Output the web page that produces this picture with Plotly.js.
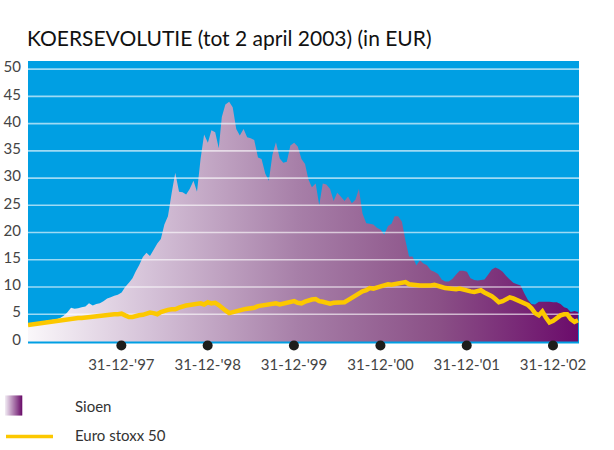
<!DOCTYPE html>
<html>
<head>
<meta charset="utf-8">
<script src="https://cdn.plot.ly/plotly-3.0.1.min.js"></script>
<style>html,body{margin:0;padding:0;background:#fff;}#chart{width:614px;height:450px;}</style>
</head>
<body>
<div id="chart"></div>
<script>
// Semi-monthly observations (1st and 16th of each month), starting December 1996
const startYear = 1996, startMonth = 12;
const sioen = [
 3.3,3.4,3.5,3.5,3.6,3.8,3.9,4.0,4.1,4.3,4.7,5.3,6.2,6.0,6.1,6.3,6.4,7.0,6.6,6.9,
 7.0,7.4,7.9,8.1,8.4,8.6,9.0,10.0,10.8,11.6,12.8,14.0,15.5,16.3,15.7,16.8,18.0,18.8,21.5,23.0,
 27.3,31.0,27.5,27.4,27.0,28.0,29.5,27.5,33.5,38.0,36.5,38.8,38.4,35.5,41.2,43.5,44.0,43.0,39.0,37.8,
 39.0,37.5,37.3,37.0,33.8,33.5,30.8,29.5,34.3,36.6,33.6,32.8,33.0,36.0,36.5,35.8,33.5,32.6,29.8,28.3,
 29.0,25.0,29.0,28.8,28.0,25.8,27.3,26.6,25.8,26.6,25.4,26.0,28.0,23.5,21.7,21.6,21.5,20.9,20.5,19.6,
 21.2,21.6,23.0,23.0,22.0,18.5,15.6,15.6,14.0,14.9,14.3,14.0,13.1,12.8,12.4,11.4,11.0,11.0,11.5,12.3,
 13.0,13.0,12.8,11.6,11.3,11.2,11.3,11.4,12.3,13.2,13.6,13.3,12.8,12.0,11.4,10.8,10.5,10.3,8.8,7.6,
 6.9,6.8,7.3,7.3,7.3,7.3,7.2,7.2,6.9,6.3,6.1,5.4,5.6,5.4
];
const eurostoxx = [
 3.0,3.1,3.2,3.3,3.4,3.5,3.6,3.75,3.85,3.9,4.0,4.1,4.15,4.2,4.3,4.3,4.4,4.5,4.5,4.6,
 4.7,4.7,4.8,4.9,5.0,5.0,5.1,4.8,4.5,4.5,4.7,4.8,4.9,5.2,5.3,5.2,5.0,5.4,5.7,5.8,
 5.9,5.9,6.2,6.5,6.6,6.7,6.8,6.9,7.0,6.8,7.2,7.0,7.1,6.7,6.1,5.7,5.2,5.4,5.7,5.7,
 5.9,6.0,6.0,6.2,6.5,6.6,6.7,6.9,6.9,7.0,6.8,6.9,7.1,7.2,7.4,7.1,7.0,7.3,7.6,7.7,
 7.8,7.4,7.3,7.1,6.95,7.1,7.2,7.1,7.2,7.6,8.0,8.5,8.9,9.2,9.4,9.8,9.7,10.0,10.1,10.3,
 10.5,10.4,10.5,10.6,10.8,10.9,10.5,10.4,10.2,10.3,10.3,10.2,10.3,10.4,10.3,10.0,9.8,9.7,9.7,9.6,
 9.7,9.5,9.4,9.2,9.1,9.2,9.4,9.0,8.7,8.3,7.8,7.2,7.4,7.8,8.1,7.9,7.6,7.5,7.2,6.7,
 6.1,5.2,4.8,5.5,4.4,3.5,3.8,4.4,4.8,5.0,5.0,4.1,3.6,3.9
];
const yTicks = [0,5,10,15,20,25,30,35,40,45,50];
const markerDates = ['1997-12-31','1998-12-31','1999-12-31','2000-12-31','2001-12-31','2002-12-31'];
const markerLabels = ["31-12-'97","31-12-'98","31-12-'99","31-12-'00","31-12-'01","31-12-'02"];
const legendNames = ['Sioen','Euro stoxx 50'];
const titleText = 'KOERSEVOLUTIE (tot 2 april 2003) (in EUR)';

function pad(n){return (n<10?'0':'')+n;}
const dates = sioen.map((_, k) => {
  const mIdx = (startMonth - 1) + Math.floor(k / 2);
  const y = startYear + Math.floor(mIdx / 12);
  const m = (mIdx % 12) + 1;
  return y + '-' + pad(m) + '-' + (k % 2 ? '16' : '01');
});
const xRange = ['1996-12-01', '2003-04-20'];
const yMin = -1.75, yMax = 51.5, bgBottom = -0.35;

const purpleScale = [[0,'#faf7fa'],[0.22,'#d5c2d8'],[0.49,'#a77fa8'],[0.75,'#8a4f86'],[1,'#6b0b6b']];

// gridlines drawn above the area but below the index line
const gx = [], gy = [];
yTicks.filter(v => v > 0).forEach(v => { gx.push(xRange[0], xRange[1], null); gy.push(v, v, null); });

const traces = [
  {x: dates, y: sioen, type: 'scatter', mode: 'none', fill: 'tozeroy',
   fillgradient: {type: 'horizontal', colorscale: purpleScale},
   name: legendNames[0], showlegend: false, hoverinfo: 'skip'},
  {x: gx, y: gy, type: 'scatter', mode: 'lines', line: {color: 'rgba(255,255,255,0.62)', width: 1.6},
   showlegend: false, hoverinfo: 'skip'},
  {x: dates, y: eurostoxx, type: 'scatter', mode: 'lines', line: {color: '#fcc800', width: 4.5},
   name: legendNames[1], showlegend: false},
  {x: markerDates, y: markerDates.map(() => -0.75), type: 'scatter', mode: 'markers',
   marker: {color: '#1d1d1b', size: 10}, showlegend: false, hoverinfo: 'skip'}
];

const W = 614, H = 450, L = 28, R = 579, T = 61, B = 350.6;
const px = v => (v - L) / (R - L);
const py = v => (B - v) / (B - T);

const shapes = [
  // blue plotting background (stops just under zero)
  {type: 'rect', xref: 'paper', yref: 'y', x0: 0, x1: 1, y0: bgBottom, y1: yMax, fillcolor: '#009fe3', line: {width: 0}, layer: 'below'}
];
// gradient legend swatch
const sw0 = 5, sw1 = 22, steps = 17;
function lerp(a, b, t){return Math.round(a + (b - a) * t);}
for (let i = 0; i < steps; i++) {
  const t = i / (steps - 1);
  const c = 'rgb(' + lerp(238,110,t) + ',' + lerp(230,20,t) + ',' + lerp(240,110,t) + ')';
  shapes.push({type: 'rect', xref: 'paper', yref: 'paper',
    x0: px(sw0 + i * (sw1 - sw0) / steps), x1: px(sw0 + (i + 1) * (sw1 - sw0) / steps + 0.3),
    y0: py(415), y1: py(395), fillcolor: c, line: {width: 0}});
}
shapes.push({type: 'line', xref: 'paper', yref: 'paper', x0: px(6), x1: px(53), y0: py(436), y1: py(436),
  line: {color: '#fcc800', width: 3.5}});

const annotations = [
  {text: legendNames[0], xref: 'paper', yref: 'paper', x: px(73), y: py(406), xanchor: 'left', yanchor: 'middle',
   showarrow: false, font: {family: 'Lato, sans-serif', size: 15, color: '#333'}},
  {text: legendNames[1], xref: 'paper', yref: 'paper', x: px(73), y: py(434), xanchor: 'left', yanchor: 'middle',
   showarrow: false, font: {family: 'Lato, sans-serif', size: 15, color: '#333'}}
];

const layout = {
  width: W, height: H,
  margin: {l: L, r: W - R, t: T, b: H - B},
  paper_bgcolor: '#ffffff', plot_bgcolor: 'rgba(0,0,0,0)',
  title: {text: titleText, x: 27 / W, xanchor: 'left', xref: 'container', y: 1 - 39 / H, yanchor: 'middle', yref: 'container',
          font: {family: 'Lato, sans-serif', size: 21, color: '#111'}},
  xaxis: {type: 'date', range: xRange, tickvals: markerDates, ticktext: markerLabels, showgrid: false, zeroline: false,
          showline: false, ticks: '', ticklabelstandoff: 3,
          tickfont: {family: 'Lato, sans-serif', size: 15, color: '#444'}, fixedrange: true},
  yaxis: {range: [yMin, yMax], tickvals: yTicks, ticktext: yTicks.map(String), showgrid: false, zeroline: false,
          showline: false, ticks: '', ticklabelstandoff: 6, ticklabelshift: -2,
          tickfont: {family: 'Lato, sans-serif', size: 15, color: '#444'}, fixedrange: true},
  shapes: shapes, annotations: annotations, showlegend: false
};

Plotly.newPlot('chart', traces, layout, {staticPlot: true, displayModeBar: false});
</script>
</body>
</html>
